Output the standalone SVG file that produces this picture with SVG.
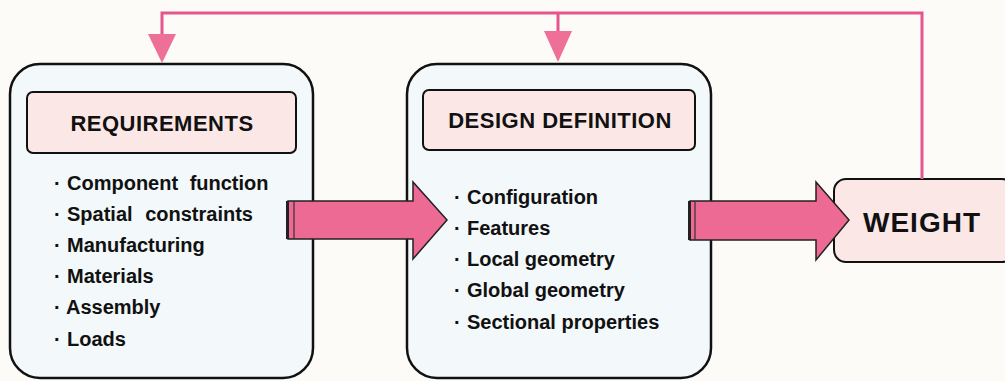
<svg xmlns="http://www.w3.org/2000/svg" width="1005" height="381" viewBox="0 0 1005 381">
<defs>
<style>
.box{fill:#f3f8fa;stroke:#111;stroke-width:2.5}
.hdr{fill:#fbe7e6;stroke:#111;stroke-width:2}
.t{font-family:"Liberation Sans",Arial,sans-serif;font-weight:bold;fill:#111}
.h{font-size:22px;letter-spacing:0.5px}
.b{font-size:20px}
.fb{fill:none;stroke:#e4568c;stroke-width:3}
.ah{fill:#ee6f98}
.big{fill:#ec6a93;stroke:#222;stroke-width:1.5}
</style>
</defs>
<rect width="1005" height="381" fill="#fdfbf8"/>
<g id="requirements">
<rect class="box" x="10" y="64" width="303" height="314" rx="30"/>
<rect class="hdr" x="27" y="92" width="269" height="61" rx="6"/>
<text class="t h" x="162" y="131" text-anchor="middle">REQUIREMENTS</text>
<g class="t b">
<text x="54" y="190">·</text><text x="67" y="190" word-spacing="6">Component function</text>
<text x="54" y="221">·</text><text x="67" y="221" word-spacing="7">Spatial constraints</text>
<text x="54" y="252">·</text><text x="67" y="252">Manufacturing</text>
<text x="54" y="283">·</text><text x="67" y="283">Materials</text>
<text x="54" y="314">·</text><text x="66" y="314">Assembly</text>
<text x="54" y="346">·</text><text x="67" y="346">Loads</text>
</g>
</g>
<g id="design-definition">
<rect class="box" x="407" y="64" width="304" height="314" rx="30"/>
<rect class="hdr" x="423" y="90" width="272" height="60" rx="6"/>
<text class="t h" x="560" y="128" text-anchor="middle">DESIGN DEFINITION</text>
<g class="t b">
<text x="454" y="204">·</text><text x="467" y="204">Configuration</text>
<text x="454" y="235">·</text><text x="467" y="235">Features</text>
<text x="454" y="266">·</text><text x="467" y="266">Local geometry</text>
<text x="454" y="297">·</text><text x="467" y="297">Global geometry</text>
<text x="454" y="329">·</text><text x="467" y="329">Sectional properties</text>
</g>
</g>
<g id="weight">
<rect class="hdr" x="834" y="179" width="180" height="83" rx="12" stroke-width="2.5"/>
<text class="t" x="922" y="232" font-size="28" letter-spacing="1" text-anchor="middle">WEIGHT</text>
</g>
<g id="connectors">
<polyline class="fb" points="922,179 922,13 162,13 162,40"/>
<line class="fb" x1="558" y1="13" x2="558" y2="40"/>
<polygon class="ah" points="148,34 176,34 162,63"/>
<polygon class="ah" points="544,31 572,31 558,62"/>
<path class="big" d="M288,201 H413 V182 L447,220 L413,259 V239 H288 Z"/>
<rect x="286" y="201" width="3" height="38" fill="#222"/>
<line x1="294" y1="201" x2="294" y2="239" stroke="#333" stroke-width="1.2"/>
<path class="big" d="M690,201 H816 V182 L849,220 L816,260 V240 H690 Z"/>
<rect x="688" y="201" width="3" height="39" fill="#222"/>
<line x1="695" y1="201" x2="695" y2="240" stroke="#333" stroke-width="1.2"/>
</g>
</svg>
